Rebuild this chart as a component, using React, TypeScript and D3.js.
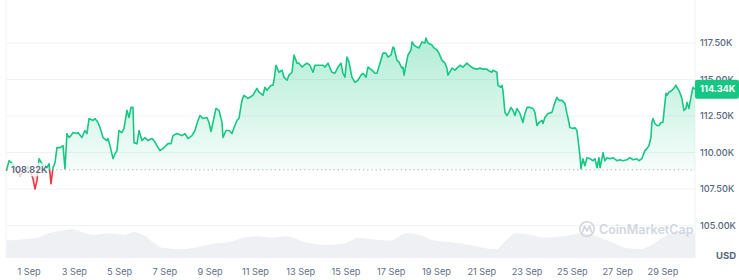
import React from 'react';
import * as d3 from 'd3';

// hours since 31 Aug 00:00 (UTC) and BTC price in thousands USD
const priceHours = [0, 2.8, 4.9, 8, 11, 14.4, 18.7, 23, 26, 28.2, 30.3, 32.4, 34.6, 37.7, 43, 45.2, 47.3, 49.4, 51.5, 53.6, 56.8, 60, 62.1, 64.2, 66.4, 68.5, 70.6, 74.8, 75.9, 80.1, 83.3, 85.4, 87.6, 91.8, 93.9, 97.1, 99.2, 102.4, 106.6, 107.7, 109.8, 113, 115.1, 117.2, 119.3, 122.5, 124.7, 127.8, 130, 132.1, 134.2, 135.3, 138.4, 140.6, 143.7, 146.9, 150.1, 154.3, 156.5, 159.6, 162.8, 166, 169.2, 171.3, 174.5, 176.6, 180.8, 186.1, 189.3, 192.5, 196.7, 199.9, 202, 205.2, 208.4, 212.6, 214.8, 216.9, 219, 222.2, 225.4, 228.6, 229.6, 232.8, 236, 239.1, 240.2, 244.4, 246.5, 249.7, 251.9, 256.1, 261.4, 265.6, 267.8, 272, 274.1, 276.3, 280.5, 282.6, 283.7, 285.8, 289, 292.2, 294.3, 297.5, 299.6, 302.8, 304.9, 308.1, 310.2, 313.4, 315.5, 318.7, 321.8, 325, 327.1, 330.3, 335.6, 337.7, 340.9, 345.1, 348.3, 351.5, 354.7, 356.8, 358.9, 361, 363.2, 366.3, 369.5, 372.7, 375.9, 378, 381.2, 383.3, 387.6, 390.7, 392.8, 396, 399.2, 402.4, 404.5, 407.7, 409.8, 410.9, 414, 416.2, 419.3, 420.4, 421.5, 424.6, 425.7, 428.9, 430, 432.1, 435.2, 437.4, 440.6, 443.7, 444.8, 446.9, 451.1, 453.3, 456.4, 458.5, 461.7, 464.9, 467, 468.1, 472.4, 475.5, 478.7, 480.8, 484, 488.2, 490.4, 494.6, 498.8, 502, 505.2, 509.4, 510.5, 514.7, 515.8, 520, 521.1, 524.3, 525.3, 526.4, 528.5, 530.6, 532.7, 534.9, 537, 539.1, 541.2, 544.4, 547.6, 549.7, 551.9, 555, 558.2, 560.3, 562.5, 564.6, 567.8, 568.8, 570.9, 574.1, 578.3, 580.5, 583.6, 585.8, 588.9, 592.1, 594.2, 595.3, 597.4, 600.6, 602.7, 604.8, 605.9, 608, 609.1, 611.2, 613.3, 615.5, 618.6, 621.8, 623.9, 626.1, 628.2, 629.3, 631.4, 632.4, 634.5, 636.7, 639.8, 643, 647.2, 650.4, 653.6, 657.8, 661, 664.2, 668.4, 670.5, 673.7, 674.8, 676.9, 679, 681.2, 683.3, 684.3, 685.4, 687.5, 689.6, 691.8, 693.9, 696, 697.1, 699.2, 700.2, 702.4, 705.5, 707.6, 709.8, 710.8, 713, 716.1, 718.3, 720.4, 721.4, 723.6, 725.7, 727.8, 729.9];
const priceValues = [108.76, 109.44, 109.33, 109.10, 108.76, 108.41, 108.70, 109.03, 108.62, 108.2, 107.51, 108.06, 109.58, 109.24, 108.96, 109.24, 107.86, 108.96, 109.30, 110.34, 110.34, 110.48, 108.89, 111.30, 111.03, 111.16, 111.37, 111.30, 111.37, 111.03, 111.51, 111.30, 112.33, 112.20, 112.33, 112.06, 111.71, 111.03, 110.82, 110.96, 110.48, 109.58, 109.92, 110.13, 111.51, 111.37, 111.65, 112.89, 112.40, 113.09, 113.09, 110.68, 110.61, 111.51, 110.82, 111.03, 110.82, 110.96, 110.82, 110.48, 110.13, 110.27, 110.48, 110.61, 110.61, 111.16, 111.30, 111.16, 111.30, 110.96, 111.16, 111.51, 111.99, 112.54, 112.33, 112.40, 112.06, 111.44, 112.06, 113.02, 112.89, 112.06, 111.03, 111.51, 111.51, 111.30, 111.51, 112.20, 112.33, 113.57, 113.92, 113.71, 113.92, 114.40, 114.13, 113.92, 114.47, 114.26, 114.61, 114.61, 114.95, 115.98, 115.50, 115.64, 115.16, 114.95, 115.30, 115.50, 116.67, 116.12, 116.12, 115.85, 115.98, 116.12, 115.98, 115.50, 115.98, 115.98, 115.98, 115.85, 116.12, 115.50, 115.43, 115.85, 116.12, 115.43, 115.16, 116.54, 116.19, 115.16, 114.81, 114.95, 115.30, 115.43, 115.16, 115.85, 115.64, 115.43, 115.43, 116.12, 116.81, 116.81, 116.54, 116.67, 117.22, 117.16, 116.33, 116.19, 115.78, 115.85, 115.30, 116.33, 116.67, 117.02, 117.57, 117.36, 117.22, 117.16, 117.57, 117.50, 117.84, 117.50, 117.36, 117.16, 117.02, 116.81, 116.33, 116.12, 115.78, 115.30, 115.78, 115.64, 115.85, 115.98, 115.85, 116.12, 115.98, 115.78, 115.71, 115.78, 115.71, 115.71, 115.64, 115.50, 115.64, 115.50, 114.61, 114.47, 114.61, 114.26, 112.75, 112.54, 112.75, 113.09, 112.89, 112.54, 113.02, 112.68, 112.06, 112.68, 113.09, 113.09, 113.02, 112.75, 111.85, 112.06, 112.20, 111.99, 112.40, 112.68, 112.75, 113.23, 113.78, 113.57, 113.57, 113.37, 112.68, 112.40, 111.71, 111.65, 111.71, 111.51, 110.96, 109.79, 108.89, 109.58, 109.10, 109.65, 109.58, 109.44, 109.58, 108.96, 109.65, 108.96, 109.58, 110.00, 109.44, 109.65, 109.58, 109.65, 109.44, 109.51, 109.44, 109.51, 109.65, 109.51, 109.58, 109.44, 109.58, 109.79, 110.13, 110.27, 110.48, 111.03, 112.06, 112.33, 111.99, 111.85, 111.85, 112.06, 112.06, 112.75, 114.06, 113.92, 114.13, 114.26, 114.40, 114.61, 114.47, 114.26, 113.71, 112.89, 113.02, 113.44, 113.02, 113.78, 114.47, 114.34];

// trading volume (billions USD)
const volumeHours = [0, 18.7, 33.5, 44.1, 58.9, 69.5, 79.1, 93.9, 109.8, 124.7, 135.3, 144.8, 155.4, 164.9, 185.1, 205.2, 221.1, 236, 250.8, 266.7, 281.5, 296.4, 316.5, 337.7, 357.9, 372.7, 387.5, 407.7, 423.6, 438.4, 453.3, 469.2, 484, 498.9, 519, 529.6, 540.2, 555, 569.9, 590, 610.2, 626, 640.9, 655.7, 671.6, 686.4, 701.3, 717.2, 730];
const volumeValues = [36, 39, 42, 51, 57, 60, 54, 48, 51, 48, 54, 48, 33, 21, 18, 24, 30, 33, 42, 45, 42, 45, 33, 27, 30, 42, 39, 36, 51, 48, 36, 33, 30, 24, 18, 36, 51, 48, 42, 45, 51, 45, 33, 21, 18, 30, 48, 54, 51];

const yTicks = [105, 107.5, 110, 112.5, 115, 117.5];
const xTickDays = [1, 3, 5, 7, 9, 11, 13, 15, 17, 19, 21, 23, 25, 27, 29];
const baselineValue = 108.82;
const lastValue = 114.34;

const GREEN = '#16c784';
const RED = '#ea3943';
const FONT = 'Inter, "Noto Sans", sans-serif';

export default function App() {
  const W = 739, H = 280;
  const start = Date.UTC(2025, 7, 31);
  const toDate = (h: number) => new Date(start + h * 3600e3);
  const x = d3.scaleUtc().domain([toDate(0), toDate(730)]).range([6.4, 695]);
  const y = d3.scaleLinear().domain([105, 117.5]).range([225.6, 43]);
  const yv = d3.scaleLinear().domain([0, 60]).range([258, 229]);

  const pts = priceHours.map((h, i) => ({ d: toDate(h), v: priceValues[i] }));
  const vpts = volumeHours.map((h, i) => ({ d: toDate(h), v: volumeValues[i] }));
  const by = y(baselineValue);

  const line = d3.line<any>().x(p => x(p.d)).y(p => y(p.v))(pts) || '';
  const area = d3.area<any>().x(p => x(p.d)).y0(by).y1(p => y(p.v))(pts) || '';
  const vArea = d3.area<any>().x(p => x(p.d)).y0(yv(0)).y1(p => yv(p.v)).curve(d3.curveMonotoneX)(vpts) || '';
  const fmt = d3.utcFormat('%-d %b');
  const x0 = 6, x1 = 695;

  return (
    <svg width={W} height={H} style={{ position: 'absolute', left: 0, top: 0, background: '#fff' }} fontFamily={FONT}>
      <defs>
        <clipPath id="above"><rect x={0} y={0} width={W} height={by} /></clipPath>
        <clipPath id="below"><rect x={0} y={by} width={W} height={H - by} /></clipPath>
        <linearGradient id="gGreen" gradientUnits="userSpaceOnUse" x1={0} y1={y(117.5)} x2={0} y2={by}>
          <stop offset="0" stopColor={GREEN} stopOpacity={0.32} />
          <stop offset="1" stopColor={GREEN} stopOpacity={0.04} />
        </linearGradient>
        <linearGradient id="gRed" gradientUnits="userSpaceOnUse" x1={0} y1={by} x2={0} y2={y(107.3)}>
          <stop offset="0" stopColor={RED} stopOpacity={0.04} />
          <stop offset="1" stopColor={RED} stopOpacity={0.3} />
        </linearGradient>
      </defs>

      {/* volume */}
      <path d={vArea} fill="#eef0f3" />

      {/* grid */}
      {yTicks.map(t => (
        <line key={t} x1={x0} x2={x1} y1={y(t)} y2={y(t)} stroke="#eff2f5" strokeWidth={1} />
      ))}
      <line x1={x0} x2={x0} y1={0} y2={258} stroke="#eff2f5" />
      <line x1={x1} x2={x1} y1={0} y2={258} stroke="#eff2f5" />

      {/* watermark */}
      <g opacity={0.9}>
        <circle cx={587} cy={229} r={7.2} fill="none" stroke="#cdd3de" strokeWidth={1.6} />
        <path d="M582.5,232 L584.5,226 L587,231 L589.5,226 L591.5,232" fill="none" stroke="#cdd3de" strokeWidth={1.6} strokeLinejoin="round" strokeLinecap="round" />
        <text x={599} y={233.5} fontSize={12.5} fontWeight={600} fill="#cdd3de">CoinMarketCap</text>
      </g>

      {/* price areas */}
      <path d={area} fill="url(#gGreen)" clipPath="url(#above)" />
      <path d={area} fill="url(#gRed)" clipPath="url(#below)" />
      <line x1={x0} x2={x1} y1={by} y2={by} stroke="#a6b0c3" strokeWidth={1} strokeDasharray="1.2,3" />
      <path d={line} fill="none" stroke={GREEN} strokeWidth={1.6} strokeLinejoin="round" clipPath="url(#above)" />
      <path d={line} fill="none" stroke={RED} strokeWidth={1.6} strokeLinejoin="round" clipPath="url(#below)" />

      {/* baseline label */}
      <rect x={9} y={by - 6.5} width={36} height={13} rx={2} fill="#fff" opacity={0.75} />
      <text x={11} y={by + 3.3} fontSize={9.2} fontWeight={600} fill="#58667e">{(baselineValue).toFixed(2)}K</text>

      {/* right axis */}
      {yTicks.map(t => (
        <text key={t} x={700} y={y(t) + 3.2} fontSize={9.2} fontWeight={500} fill="#58667e">{t.toFixed(2)}K</text>
      ))}
      <rect x={695} y={y(lastValue) - 9.5} width={44} height={19} rx={2} fill={GREEN} />
      <text x={700} y={y(lastValue) + 3.3} fontSize={9.2} fontWeight={700} fill="#fff">{lastValue.toFixed(2)}K</text>

      {/* x axis */}
      {xTickDays.map(dd => {
        const d = new Date(Date.UTC(2025, 8, dd));
        return (
          <text key={dd} x={x(d)} y={274.5} textAnchor="middle" fontSize={9.2} fill="#616e85">{fmt(d)}</text>
        );
      })}
      <text x={736} y={259} textAnchor="end" fontSize={9.5} fontWeight={700} fill="#58667e">USD</text>
    </svg>
  );
}
